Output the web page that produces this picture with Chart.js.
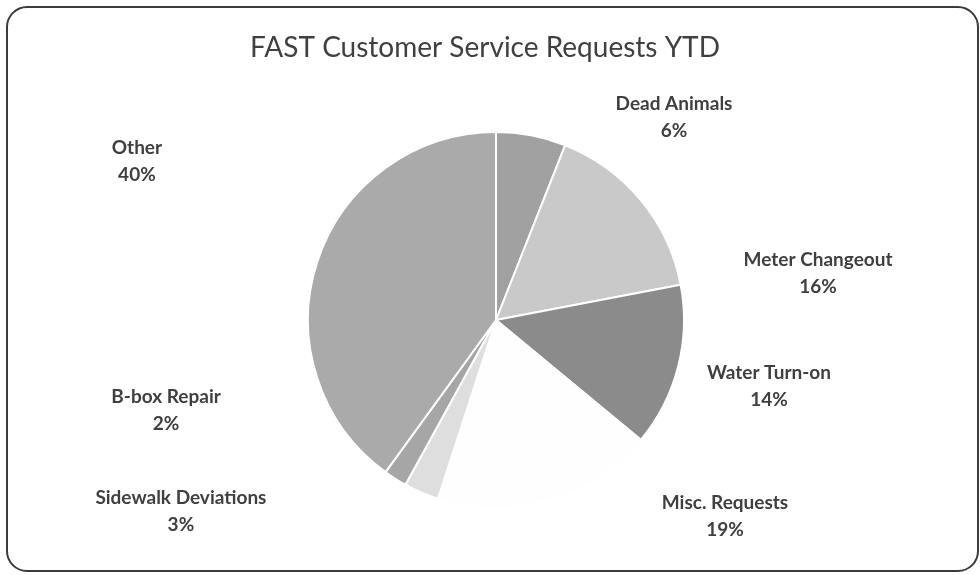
<!DOCTYPE html>
<html>
<head>
<meta charset="utf-8">
<script src="https://cdn.jsdelivr.net/npm/chart.js@4.4.0/dist/chart.umd.min.js"></script>
<style>
html, body { margin: 0; padding: 0; background: #fff; }
</style>
</head>
<body>
<canvas id="pie-chart" width="980" height="575"></canvas>
<script>
var titolo = 'FAST Customer Service Requests YTD';
var categorie = ['Dead Animals', 'Meter Changeout', 'Water Turn-on', 'Misc. Requests', 'Sidewalk Deviations', 'B-box Repair', 'Other'];
var percentuali = [6, 16, 14, 19, 3, 2, 40];
var colori = ['#a1a1a1', '#c9c9c9', '#8b8b8b', '#fefefe', '#dedede', '#a6a6a6', '#aaaaaa'];

// label spots, relative to pie centre, in units of the radius
var posEtichette = [[0.947, -1.077], [1.713, -0.25], [1.452, 0.354], [1.218, 1.043], [-1.676, 1.019], [-1.755, 0.479], [-1.91, -0.846]];

var cornice = {
    id: 'cornice',
    beforeDraw: function(chart) {
        var c = chart.ctx;
        c.save();
        c.fillStyle = '#fff';
        c.fillRect(0, 0, chart.width, chart.height);
        c.strokeStyle = '#3c3c3c';
        c.lineWidth = 2;
        c.beginPath();
        c.roundRect(7, 7, 971, 564, 20);
        c.stroke();
        c.fillStyle = '#404040';
        c.font = '28px Lato';
        c.textAlign = 'center';
        c.textBaseline = 'middle';
        c.fillText(titolo, 485, 48);
        c.restore();
    }
};

var etichette = {
    id: 'etichette',
    afterDatasetsDraw: function(chart) {
        var c = chart.ctx;
        var arcs = chart.getDatasetMeta(0).data;
        var dati = chart.data.datasets[0].data;
        var tot = dati.reduce(function(a, b) { return a + b; }, 0);
        c.save();
        c.fillStyle = '#3f3f3f';
        c.font = 'bold 19px Lato';
        c.textAlign = 'center';
        c.textBaseline = 'middle';
        arcs.forEach(function(arc, i) {
            var r = arc.outerRadius;
            var x = arc.x + posEtichette[i][0] * r;
            var y = arc.y + posEtichette[i][1] * r;
            c.fillText(chart.data.labels[i], x, y - 13.5);
            c.fillText(Math.round(dati[i] / tot * 100) + '%', x, y + 13.5);
        });
        c.restore();
    }
};

var ctx = document.getElementById('pie-chart');
var pieChart = new Chart(ctx, {
    type: 'pie',
    data: {
        labels: categorie,
        datasets: [{
            data: percentuali,
            backgroundColor: colori,
            borderColor: '#ffffff',
            borderWidth: 2
        }]
    },
    options: {
        responsive: false,
        animation: false,
        layout: { padding: { top: 131, bottom: 66, left: 307, right: 295 } },
        plugins: {
            legend: { display: false },
            title: { display: false },
            tooltip: { enabled: false }
        }
    },
    plugins: [cornice, etichette]
});
</script>
</body>
</html>
